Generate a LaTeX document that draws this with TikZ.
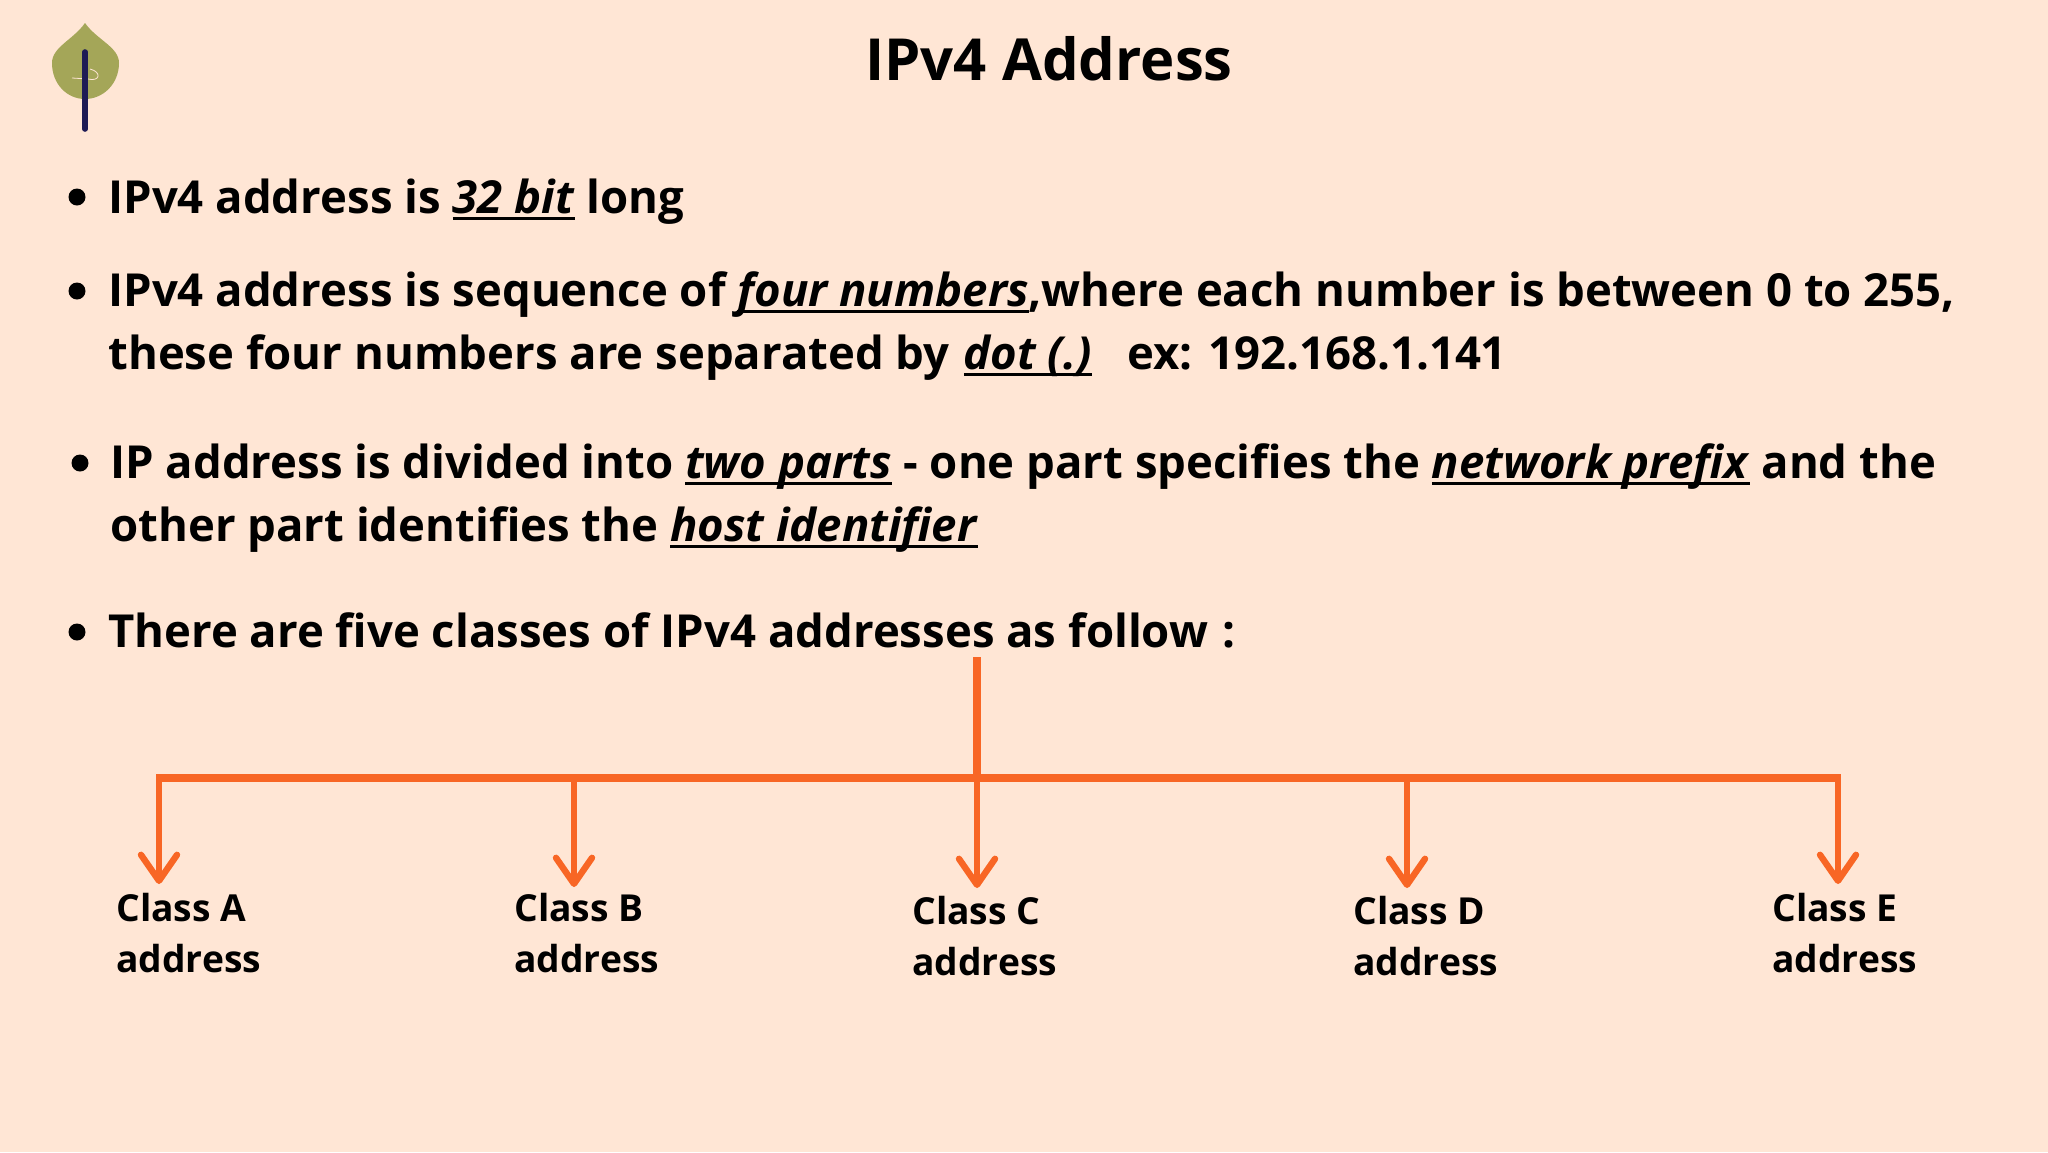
\documentclass[tikz,border=0pt]{standalone}
\usepackage{fontspec}
\setmainfont{Open Sans}
\usetikzlibrary{arrows.meta}
\definecolor{paper}{HTML}{FFE6D5}
\definecolor{branch}{HTML}{F86625}
\definecolor{leaf}{HTML}{A4A658}
\definecolor{stem}{HTML}{1E1B55}
\newsavebox{\keybox}
\newcommand{\keyword}[1]{\sbox{\keybox}{\textit{#1}}\usebox{\keybox}\llap{\rule[-3.6pt]{\wd\keybox}{1.6pt}}}
\tikzset{heading/.style = {font=\fontsize{29}{34}\bfseries\selectfont}}
\tikzset{body/.style = {anchor=base west,inner sep=0pt,font=\fontsize{22.75}{27}\bfseries\selectfont}}
\tikzset{classname/.style = {anchor=base west,inner sep=0pt,font=\fontsize{18.6}{22}\bfseries\selectfont}}
\tikzset{dot/.style = {shape=circle,fill=black,inner sep=0pt,minimum size=8.5pt}}
\tikzset{bar/.style = {draw=branch,line width=4.4pt,shorten <=-1.5pt,shorten >=-1.5pt}}
\tikzset{edge/.style = {draw=branch,line width=3.2pt,-{Straight Barb[length=13pt,width=18pt,round]}}}

\begin{document}
\begin{tikzpicture}[x=0.5pt,y=-0.5pt]
        \fill[paper] (0,0) rectangle (2048,1152);
        \useasboundingbox (0,0) rectangle (2048,1152);
        \fill[leaf] (85,23) .. controls (97,40) and (119,47) .. (119,63) .. controls (119,84) and (103,99) .. (85,99) .. controls (67,99) and (52,84) .. (52,63) .. controls (52,47) and (73,40) .. (85,23) -- cycle;
        \draw[paper,line width=0.4pt] (72,78) -- (88,79) .. controls (100,82) and (102,72) .. (90,69);
        \draw[stem,line width=2.8pt,line cap=round] (85,52) -- (85,129);
        \node[heading] (title) at (1049,59) {IPv4 Address};
        \node[dot] (d1) at (77,197) {};
        \node[body] (l1) at (108,213) {IPv4 address is \keyword{32 bit} long};
        \node[dot] (d2) at (77,291) {};
        \node[body] (l2) at (108,306) {IPv4 address is sequence of \keyword{four numbers},where each number is between 0 to 255,};
        \node[body] (l3) at (108,369) {these four numbers are separated by\hspace{1.2pt} \keyword{dot (.)}\ \ \ ex: 192.168.1.141};
        \node[dot] (d3) at (80,463) {};
        \node[body] (l4) at (110,478) {IP address is divided into \keyword{two parts} - one part specifies the \keyword{network prefix} and the};
        \node[body] (l5) at (110,541) {other part identifies the \keyword{host identifier}};
        \node[dot] (d4) at (77,632) {};
        \node[body] (l6) at (108,647) {There are five classes of IPv4 addresses as follow\hspace{1.5pt} :};
        \coordinate (top) at (977,660);
        \coordinate (ja) at (159,778);
        \coordinate (jb) at (574,778);
        \coordinate (jc) at (977,778);
        \coordinate (jd) at (1407,778);
        \coordinate (je) at (1838,778);
        \coordinate (ta) at (159,884);
        \coordinate (tb) at (574,887);
        \coordinate (tc) at (977,888);
        \coordinate (td) at (1407,888);
        \coordinate (te) at (1838,884);
        \draw[bar] (top) to (jc);
        \draw[bar] (ja) to (je);
        \draw[edge] (ja) to (ta);
        \draw[edge] (jb) to (tb);
        \draw[edge] (jc) to (tc);
        \draw[edge] (jd) to (td);
        \draw[edge] (je) to (te);
        \node[classname] (a) at (116,921) {Class A};
        \node[classname] (a2) at (116,972) {address};
        \node[classname] (b) at (514,921) {Class B};
        \node[classname] (b2) at (514,972) {address};
        \node[classname] (c) at (912,924) {Class C};
        \node[classname] (c2) at (912,975) {address};
        \node[classname] (d) at (1353,924) {Class D};
        \node[classname] (d2) at (1353,975) {address};
        \node[classname] (e) at (1772,921) {Class E};
        \node[classname] (e2) at (1772,972) {address};
    \end{tikzpicture}
\end{document}
